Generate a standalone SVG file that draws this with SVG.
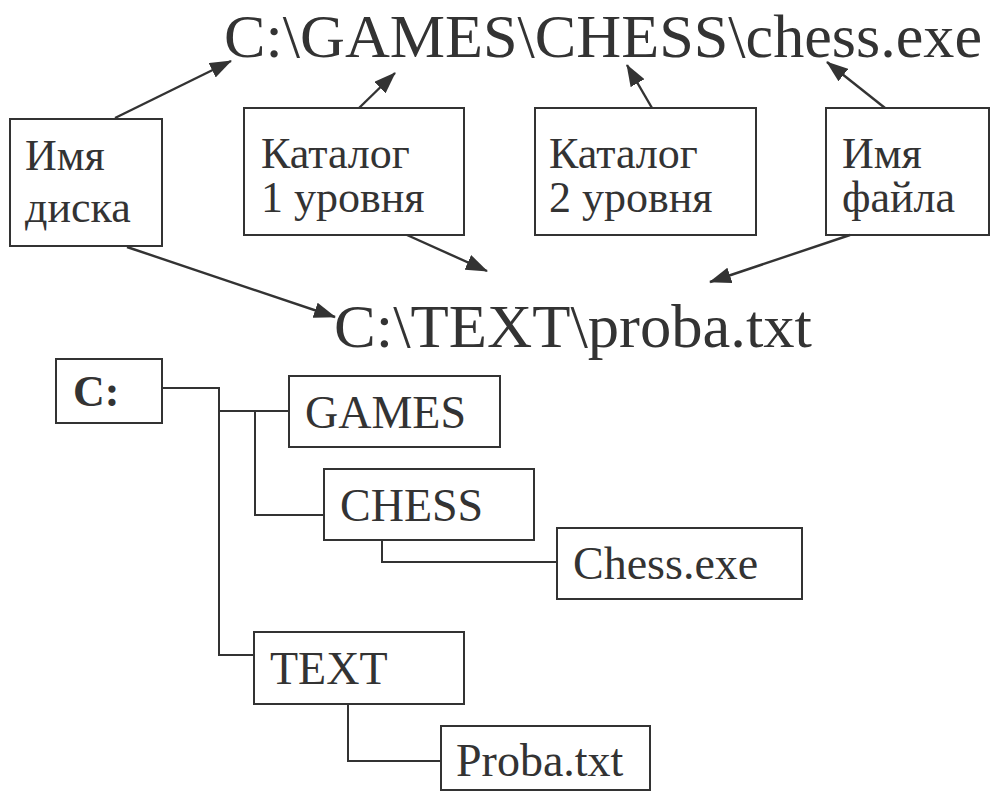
<svg xmlns="http://www.w3.org/2000/svg" width="994" height="792" viewBox="0 0 994 792">
<style>
text{font-family:'Liberation Serif','Times New Roman','DejaVu Serif','Noto Serif',serif;fill:#333}
.box{fill:#fff;stroke:#333;stroke-width:2}
.lbl{font-size:44px}
.tree{font-size:46px}
.big{font-size:62px}
.con{fill:none;stroke:#333;stroke-width:2}
.arr{fill:none;stroke:#333;stroke-width:2.4;marker-end:url(#ah)}
</style>
<defs>
<marker id="ah" markerUnits="userSpaceOnUse" markerWidth="22" markerHeight="16" viewBox="0 0 22 16" refX="21" refY="8" orient="auto">
<path d="M0,0 L22,8 L0,16 z" fill="#333"/>
</marker>
</defs>
<rect width="994" height="792" fill="#fff"/>

<g id="path1"><text class="big" font-family="Liberation Serif, serif" x="224" y="57" textLength="758" lengthAdjust="spacingAndGlyphs">C:\GAMES\CHESS\chess.exe</text></g>
<g id="path2"><text class="big" font-family="Liberation Serif, serif" x="334" y="347" textLength="478" lengthAdjust="spacingAndGlyphs">C:\TEXT\proba.txt</text></g>

<g id="disk"><rect class="box" x="10" y="119" width="152" height="127"/>
<text class="lbl" x="25" y="170">Имя</text><text class="lbl" x="25" y="222">диска</text></g>
<g id="cat1"><rect class="box" x="244" y="108" width="220" height="127"/>
<text class="lbl" x="261" y="168">Каталог</text><text class="lbl" x="261" y="212">1 уровня</text></g>
<g id="cat2"><rect class="box" x="535" y="108" width="221" height="127"/>
<text class="lbl" x="549" y="168">Каталог</text><text class="lbl" x="549" y="212">2 уровня</text></g>
<g id="fname"><rect class="box" x="826" y="108" width="163" height="127"/>
<text class="lbl" x="842" y="168">Имя</text><text class="lbl" x="842" y="212">файла</text></g>

<g id="connectors">
<line class="arr" x1="115" y1="118" x2="231" y2="61"/>
<line class="arr" x1="359" y1="108" x2="395" y2="73"/>
<line class="arr" x1="652" y1="108" x2="627" y2="65"/>
<line class="arr" x1="885" y1="108" x2="827" y2="62"/>
<line class="arr" x1="127" y1="247" x2="335" y2="317"/>
<line class="arr" x1="407" y1="235" x2="487" y2="271"/>
<line class="arr" x1="850" y1="235" x2="710" y2="282"/>
<path class="con" d="M162,388 H219 V655 H254"/>
<path class="con" d="M219,411 H289"/>
<path class="con" d="M255,411 V515 H324"/>
<path class="con" d="M382,540 V562 H557"/>
<path class="con" d="M348,704 V761 H441"/>
</g>

<g id="c"><rect class="box" x="56" y="359" width="106" height="64"/>
<text x="73" y="406" font-size="44" font-weight="bold">C:</text></g>
<g id="games"><rect class="box" x="289" y="376" width="211" height="71"/>
<text class="tree" x="305" y="428">GAMES</text></g>
<g id="chess"><rect class="box" x="324" y="469" width="210" height="71"/>
<text class="tree" x="340" y="521">CHESS</text></g>
<g id="chessexe"><rect class="box" x="557" y="528" width="245" height="71"/>
<text class="tree" x="573" y="579">Chess.exe</text></g>
<g id="text"><rect class="box" x="254" y="632" width="210" height="72"/>
<text class="tree" x="270" y="684">TEXT</text></g>
<g id="proba"><rect class="box" x="441" y="726" width="209" height="64"/>
<text class="tree" x="456" y="776">Proba.txt</text></g>
</svg>
